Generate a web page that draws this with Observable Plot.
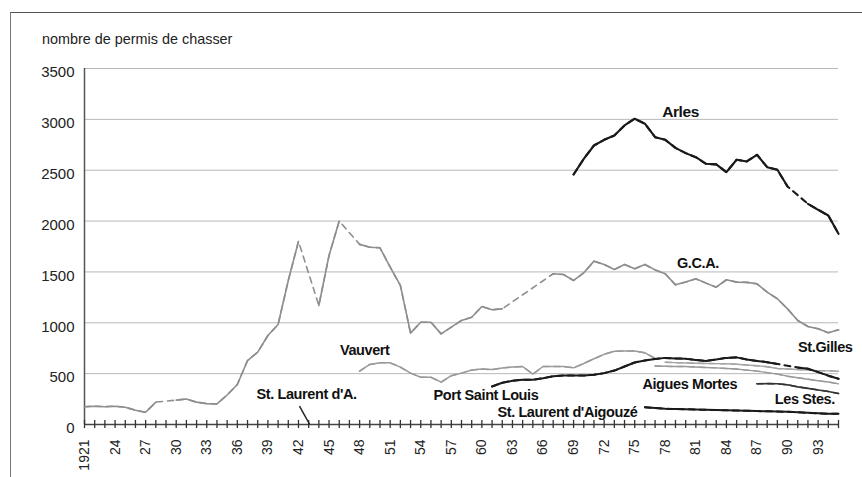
<!DOCTYPE html>
<html><head><meta charset="utf-8">
<script src="https://cdn.jsdelivr.net/npm/d3@7"></script>
<script src="https://cdn.jsdelivr.net/npm/@observablehq/plot@0.6"></script>
<style>
body{margin:0;background:#fff;}
#wrap{position:relative;width:862px;height:477px;overflow:hidden;background:#fff;}
#wrap svg{position:absolute;left:0;top:0;}
#frame{position:absolute;left:10px;top:12px;width:900px;height:500px;border-left:1.5px solid #777;border-top:1.5px solid #555;pointer-events:none;}
#title{position:absolute;left:42px;top:32px;font:14.4px "Liberation Sans",Arial,sans-serif;color:#222;line-height:14px;white-space:nowrap;}
svg g.serieslabel text{letter-spacing:-0.4px;}
</style></head><body>
<div id="wrap"><div id="title">nombre de permis de chasser</div></div>
<script>
// ---- data ----
const years = d3.range(1921, 1996);
const yTicks = [0, 500, 1000, 1500, 2000, 2500, 3000, 3500];
const xLabelYears = [1921,1924,1927,1930,1933,1936,1939,1942,1945,1948,1951,1954,1957,1960,1963,1966,1969,1972,1975,1978,1981,1984,1987,1990,1993];
const xLabelTexts = ["1921","24","27","30","33","36","39","42","45","48","51","54","57","60","63","66","69","72","75","78","81","84","87","90","93"];

const gcaStart = 1921;
const gca = [175,180,175,180,170,140,120,220,null,240,
  250,220,205,203,290,393,629,711,875,983,
  1416,1800,null,1170,1662,2000,null,1771,1743,1737,
  1547,1367,898,1006,1006,891,957,1023,1055,1160,
  1128,1137,null,null,null,null,1482,1475,1416,1491,
  1606,1573,1524,1573,1531,1573,1520,1482,1373,1400,
  1432,1390,1350,1423,1400,1397,1383,1301,1236,1137,
  1023,964,941,901,931];

const arlesStart = 1969;
const arles = [2458,2612,2743,2799,2842,2940,3006,2957,2825,2799,2720,2668,2628,2563,2557,2481,2603,2586,2652,2530,2504,2340,null,2170,2111,2055,1875];

const vauvertStart = 1948;
const vauvert = [524,590,606,606,564,505,465,465,416,480,505,535,545,540,555,565,570,495,570,570,570,557,600,646,690,720,722,722,705,650];

const portStLouisStart = 1961;
const portStLouis = [374,410,430,440,440,455,475,482,482,482,490,505,530,570,610,630,645,655,650,646,635,625,640,655,660,640,625,613,595,null,560,548,515,480,449];

const stGillesStart = 1978;
const stGilles = [612,608,605,602,600,598,597,592,585,578,568,550,545,540,535,530,527,524];

const aiguesMortesStart = 1977;
const aiguesMortes = [575,572,570,570,565,560,557,550,545,535,525,510,495,475,460,445,430,418,400];

const lesStesStart = 1987;
const lesStes = [400,402,400,390,370,355,340,325,305];

const stLaurentStart = 1976;
const stLaurent = [170,162,155,152,150,147,145,142,140,138,135,132,130,128,125,120,115,110,105,105];

const labelNames = ["Arles","G.C.A.","Vauvert","St. Laurent d'A.","Port Saint Louis","St. Laurent d'Aigouzé","Aigues Mortes","Les Stes.","St.Gilles"];
const labelYears = [1979.5,1981.2,1948.5,1942.8,1960.4,1968.4,1980.4,1991.7,1993.7];
const labelValues = [3068,1583,728,295,285,118,393,246,757];
const labelSizes = [15.5,14.5,14.5,14.5,14.5,14.5,14.5,14.5,14.5];

const leaderYears = [1942.1, 1943.1];
const leaderValues = [180, 0];

// ---- build ----
const series = [
  {name:"G.C.A.", start:gcaStart, values:gca, stroke:"#8e8e8e", width:1.6},
  {name:"Vauvert", start:vauvertStart, values:vauvert, stroke:"#9a9a9a", width:1.5},
  {name:"St.Gilles", start:stGillesStart, values:stGilles, stroke:"#a5a5a5", width:1.4},
  {name:"Aigues Mortes", start:aiguesMortesStart, values:aiguesMortes, stroke:"#9a9a9a", width:1.4},
  {name:"Port Saint Louis", start:portStLouisStart, values:portStLouis, stroke:"#1a1a1a", width:2},
  {name:"Les Stes.", start:lesStesStart, values:lesStes, stroke:"#333", width:1.6},
  {name:"St. Laurent d'Aigouzé", start:stLaurentStart, values:stLaurent, stroke:"#1a1a1a", width:2},
  {name:"Arles", start:arlesStart, values:arles, stroke:"#1a1a1a", width:2.1}
];

const lineMarks = [];
for (const s of series) {
  const pts = s.values.map((v, i) => ({year: s.start + i, v}));
  const defined = pts.filter(p => p.v != null);
  lineMarks.push(Plot.line(defined, {x:"year", y:"v", stroke:s.stroke, strokeWidth:s.width, strokeDasharray:"6,5"}));
  lineMarks.push(Plot.line(pts, {x:"year", y:"v", stroke:s.stroke, strokeWidth:s.width, strokeLinejoin:"round"}));
}

const labels = labelNames.map((t, i) => ({t, year: labelYears[i], v: labelValues[i], size: labelSizes[i]}));

const chart = Plot.plot({
  width: 862, height: 477,
  marginLeft: 84, marginRight: 24, marginTop: 68, marginBottom: 53,
  x: {domain: [1921, 1995]},
  y: {domain: [0, 3500]},
  style: {fontFamily: '"Liberation Sans", Arial, sans-serif', fontSize: "14px", color: "#222", background: "transparent", overflow: "visible"},
  marks: [
    Plot.gridY(yTicks.filter(d => d > 0), {stroke: "#b8b8b8", strokeOpacity: 1, strokeWidth: 1}),
    Plot.axisY(yTicks, {tickSize: 0, tickPadding: 10, dy: 4, fontSize: 15, label: null, fill: "#222", tickFormat: d => String(d)}),
    Plot.axisX(xLabelYears, {tickSize: 0, tickPadding: 15, tickRotate: -90, fontSize: 14, label: null, fill: "#222",
      tickFormat: d => xLabelTexts[xLabelYears.indexOf(d)]}),
    Plot.ruleX([1921], {y1: 0, y2: 3500, stroke: "#555", strokeWidth: 1.5}),
    ...lineMarks,
    Plot.ruleY([0], {stroke: "#444", strokeWidth: 1.5}),
    Plot.ruleX(years, {x: d => d, y1: () => -40, y2: () => 40, stroke: "#333", strokeWidth: 1.3}),
    Plot.link([0], {x1: () => leaderYears[0], y1: () => leaderValues[0], x2: () => leaderYears[1], y2: () => leaderValues[1], stroke: "#222", strokeWidth: 1.5}),
    Plot.text(labels, {x: "year", y: "v", text: "t", fontWeight: "bold", fontSize: "size", className: "serieslabel", fill: "#111"})
  ]
});
const wrap = document.getElementById("wrap");
wrap.insertBefore(chart, wrap.firstChild);
const fr = document.createElement("div"); fr.id = "frame"; wrap.appendChild(fr);
</script>
</body></html>
